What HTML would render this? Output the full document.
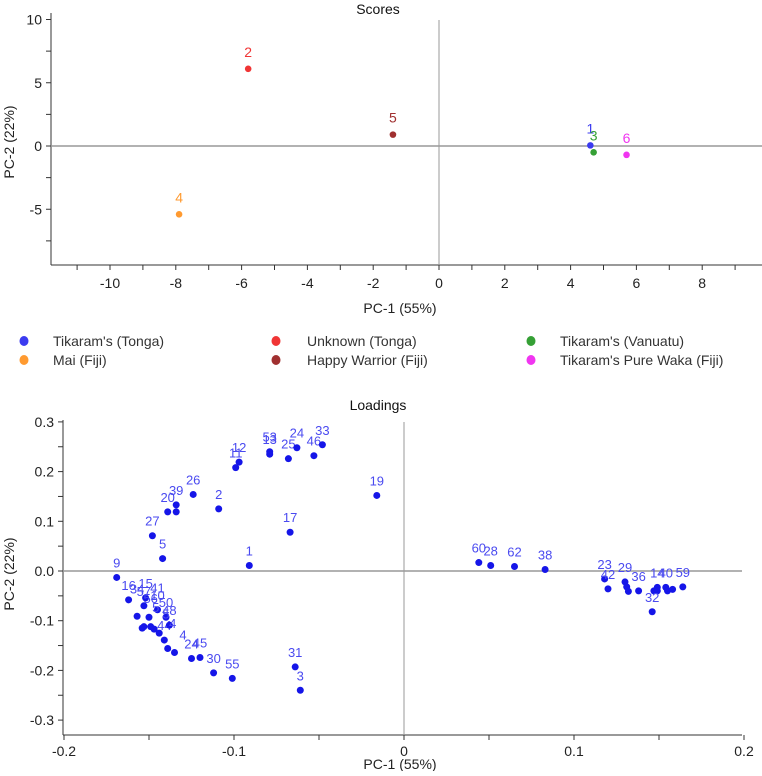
<!DOCTYPE html>
<html><head><meta charset="utf-8"><style>
body{margin:0;background:#fff;font-family:"Liberation Sans",sans-serif;}
svg text{font-family:"Liberation Sans",sans-serif;}
</style></head><body>
<svg id="chart" width="762" height="771" viewBox="0 0 762 771" xmlns="http://www.w3.org/2000/svg">
</svg>
<script>
// Scores data
const scoreIds = ["1","2","3","4","5","6"];
const scoreX = [4.6, -5.8, 4.7, -7.9, -1.4, 5.7];
const scoreY = [0.05, 6.1, -0.5, -5.4, 0.9, -0.7];
const scoreColors = ["#3b3bf0","#f03535","#35a035","#ff9a30","#a03030","#f035f0"];
const scoreXTicks = [-10,-8,-6,-4,-2,0,2,4,6,8];
const scoreYTicks = [10,5,0,-5];
const legendNames = ["Tikaram's (Tonga)","Unknown (Tonga)","Tikaram's (Vanuatu)","Mai (Fiji)","Happy Warrior (Fiji)","Tikaram's Pure Waka (Fiji)"];
// Loadings data
const loadX = [-0.169,-0.162,-0.157,-0.154,-0.153,-0.152,-0.153,-0.150,-0.149,-0.147,-0.144,-0.141,-0.139,-0.135,-0.138,-0.140,-0.145,-0.125,-0.120,-0.112,-0.101,-0.064,-0.061,
 -0.148,-0.142,-0.139,-0.134,-0.134,-0.124,-0.109,-0.099,-0.097,-0.079,-0.079,-0.068,-0.063,-0.053,-0.048,-0.016,-0.067,-0.091,
 0.044,0.051,0.065,0.083,0.118,0.120,0.130,0.131,0.132,0.138,0.147,0.149,0.149,0.154,0.155,0.158,0.164,0.146];
const loadY = [-0.013,-0.058,-0.091,-0.115,-0.112,-0.054,-0.070,-0.093,-0.112,-0.117,-0.125,-0.139,-0.156,-0.164,-0.109,-0.093,-0.078,-0.176,-0.174,-0.205,-0.216,-0.193,-0.240,
 0.071,0.025,0.119,0.119,0.133,0.154,0.125,0.208,0.219,0.240,0.235,0.226,0.248,0.232,0.254,0.152,0.078,0.011,
 0.017,0.011,0.009,0.003,-0.016,-0.036,-0.022,-0.032,-0.041,-0.040,-0.040,-0.033,-0.040,-0.033,-0.040,-0.037,-0.032,-0.082];
const loadLabels = ["9","16","","","","15","57","","","","","44","","","48","50","10","24","45","30","55","31","3",
 "27","5","20","","39","26","2","11","12","53","13","25","24","46","33","19","17","1",
 "60","28","62","38","23","42","29","","","36","","14","","40","","","59","32"];
const loadXTicks = [-0.2,-0.1,0,0.1,0.2];
const loadYTicks = [0.3,0.2,0.1,0,-0.1,-0.2,-0.3];
// Extra overlapping labels (text only) in lower-left cluster
const extraLabels = ["34","41","56","5","5","4","4"];
const extraX = [-0.157,-0.145,-0.149,-0.146,-0.140,-0.136,-0.130];
const extraY = [-0.045,-0.043,-0.064,-0.082,-0.096,-0.115,-0.138];

const svg = document.getElementById('chart');
const NS = "http://www.w3.org/2000/svg";
function mk(tag, attrs, parent){const e=document.createElementNS(NS,tag);for(const k in attrs)e.setAttribute(k,attrs[k]);(parent||svg).appendChild(e);return e;}

// ---- Scores axes
const sx = v => 439 + v*32.9;
const sy = v => 146 - v*12.65;
const gS = mk('g',{});


let t = mk('text',{x:378,y:14,'font-size':14,'text-anchor':'middle',fill:'#111'},gS); t.textContent='Scores';
 
let l = mk('line',{x1:51,y1:13,x2:51,y2:265,stroke:'#333','stroke-width':1},gS);
 
l = mk('line',{x1:51,y1:265,x2:762,y2:265,stroke:'#333','stroke-width':1},gS);
 
l = mk('line',{x1:sx(0),y1:20,x2:sx(0),y2:265,stroke:'#999','stroke-width':1},gS);
 
l = mk('line',{x1:51,y1:sy(0),x2:762,y2:sy(0),stroke:'#999','stroke-width':1.5},gS);
 
for(let v=-11; v<=9; v++){ mk('line',{x1:sx(v),y1:265,x2:sx(v),y2:270,stroke:'#333'},gS); }
scoreXTicks.forEach(v=>{const e=mk('text',{x:sx(v),y:288,'font-size':14,'text-anchor':'middle',fill:'#222'},gS);e.textContent=v;
  });
for(let v=-7.5; v<=10; v+=2.5){ mk('line',{x1:46,y1:sy(v),x2:51,y2:sy(v),stroke:'#333'},gS); }
scoreYTicks.forEach(v=>{const e=mk('text',{x:42,y:sy(v)+5,'font-size':14,'text-anchor':'end',fill:'#222'},gS);e.textContent=v;
  });
t = mk('text',{x:400,y:313,'font-size':14,'text-anchor':'middle',fill:'#222'},gS); t.textContent='PC-1 (55%)';
 
t = mk('text',{x:0,y:0,'font-size':14,'text-anchor':'middle',fill:'#222',transform:'translate(14,142) rotate(-90)'},gS); t.textContent='PC-2 (22%)';
 
scoreIds.forEach((id,i)=>{
 const c=mk('circle',{cx:sx(scoreX[i]),cy:sy(scoreY[i]),r:3.3,fill:scoreColors[i]},gS);
  
 const e=mk('text',{x:sx(scoreX[i]),y:sy(scoreY[i])-12,'font-size':14,'text-anchor':'middle',fill:scoreColors[i]},gS); e.textContent=id;
  
});
// ---- Legend
const legX=[24,276,531], legTX=[53,307,560], legY=[341,360];
legendNames.forEach((n,i)=>{
 const col=i%3,row=Math.floor(i/3);
 const g=mk('g',{});
  
 mk('ellipse',{cx:legX[col],cy:legY[row],rx:4.5,ry:5,fill:scoreColors[i]},g);
 const e=mk('text',{x:legTX[col],y:legY[row]+5,'font-size':14,fill:'#333'},g); e.textContent=n;
});
// ---- Loadings
const lx = v => 404 + v*1700;
const ly = v => 571 - v*497;
const gL = mk('g',{});


t = mk('text',{x:378,y:410,'font-size':14,'text-anchor':'middle',fill:'#111'},gL); t.textContent='Loadings';
 
l = mk('line',{x1:63,y1:420,x2:63,y2:735,stroke:'#333'},gL);
 
l = mk('line',{x1:63,y1:735,x2:742,y2:735,stroke:'#333'},gL);
 
l = mk('line',{x1:lx(0),y1:422,x2:lx(0),y2:735,stroke:'#999'},gL);
 
l = mk('line',{x1:63,y1:ly(0),x2:742,y2:ly(0),stroke:'#999','stroke-width':1.5},gL);
 
for(let k=-4;k<=4;k++){ mk('line',{x1:lx(k*0.05),y1:735,x2:lx(k*0.05),y2:740,stroke:'#333'},gL); }
loadXTicks.forEach(v=>{const e=mk('text',{x:lx(v),y:756,'font-size':14,'text-anchor':'middle',fill:'#222'},gL);e.textContent=v;
  });
for(let k=-6;k<=6;k++){ mk('line',{x1:58,y1:ly(k*0.05),x2:63,y2:ly(k*0.05),stroke:'#333'},gL); }
loadYTicks.forEach(v=>{const e=mk('text',{x:54,y:ly(v)+5,'font-size':14,'text-anchor':'end',fill:'#222'},gL);e.textContent=v.toFixed(1);
  });
t = mk('text',{x:400,y:769,'font-size':14,'text-anchor':'middle',fill:'#222'},gL); t.textContent='PC-1 (55%)';
 
t = mk('text',{x:0,y:0,'font-size':14,'text-anchor':'middle',fill:'#222',transform:'translate(14,574) rotate(-90)'},gL); t.textContent='PC-2 (22%)';
 
loadX.forEach((v,i)=>{
 const c=mk('circle',{cx:lx(v),cy:ly(loadY[i]),r:3.5,fill:'#1515e8'},gL);
  
 if(loadLabels[i]){
  const e=mk('text',{x:lx(v),y:ly(loadY[i])-10,'font-size':13,'text-anchor':'middle',fill:'#4a4af0'},gL); e.textContent=loadLabels[i];
   
 }
});
extraLabels.forEach((s,i)=>{
 const e=mk('text',{x:lx(extraX[i]),y:ly(extraY[i]),'font-size':13,'text-anchor':'middle',fill:'#4a4af0'},gL); e.textContent=s;
  
});
</script>
</body></html>
